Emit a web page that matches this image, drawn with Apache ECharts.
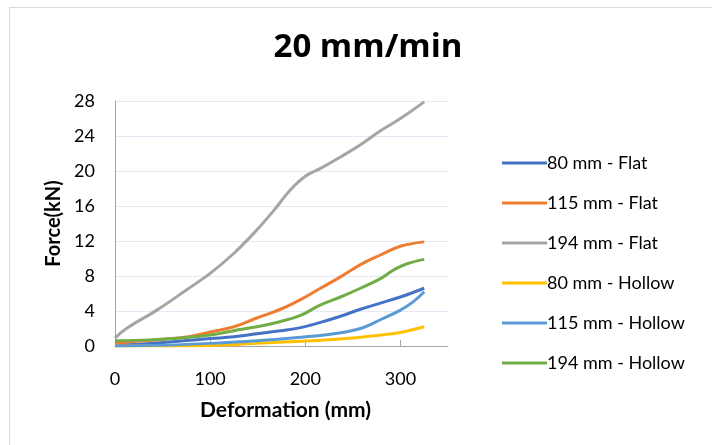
<!DOCTYPE html>
<html>
<head>
<meta charset="utf-8">
<script src="https://cdn.jsdelivr.net/npm/echarts@6/dist/echarts.min.js"></script>
<style>
html,body{margin:0;padding:0;background:#fff;}
#frame{position:absolute;left:9px;top:7px;width:720px;height:450px;border:1px solid #d9d9d9;box-sizing:border-box;}
#chart{position:absolute;left:0;top:0;width:712px;height:445px;}
</style>
</head>
<body>
<div id="frame"></div>
<div id="chart"></div>
<script>
const titleText = '20 mm/min';
const xAxisName = 'Deformation (mm)';
const yAxisName = 'Force(kN)';
const seriesNames = ['80 mm - Flat', '115 mm - Flat', '194 mm - Flat', '80 mm - Hollow', '115 mm - Hollow', '194 mm - Hollow'];
const seriesColors = ['#4472C4', '#ED7D31', '#A5A5A5', '#FFC000', '#5B9BD5', '#70AD47'];

const flat80 = [[0,0.1],[37,0.3],[72,0.6],[100,0.85],[125,1.05],[149,1.4],[174,1.75],[195,2.1],[216,2.7],[237,3.4],[258,4.2],[279,4.9],[300,5.6],[325,6.6]];
const flat115 = [[0,0.3],[19,0.5],[54,0.8],[79,1.1],[100,1.6],[125,2.2],[149,3.2],[174,4.2],[195,5.3],[216,6.6],[237,7.9],[258,9.3],[279,10.4],[300,11.4],[325,11.9]];
const flat194 = [[0,0.9],[12,2.0],[44,4.1],[75,6.4],[100,8.3],[125,10.6],[146,12.9],[167,15.5],[184,17.8],[200,19.4],[216,20.3],[237,21.6],[258,23.0],[279,24.6],[300,26.0],[325,27.9]];
const hollow80 = [[0,0],[50,0],[100,0.05],[149,0.3],[195,0.55],[230,0.75],[258,1.0],[279,1.25],[300,1.55],[325,2.2]];
const hollow115 = [[0,0],[54,0.1],[100,0.3],[149,0.6],[195,1.0],[230,1.4],[258,2.0],[279,3.0],[300,4.1],[314,5.1],[325,6.2]];
const hollow194 = [[0,0.6],[37,0.7],[72,0.95],[100,1.25],[125,1.75],[149,2.2],[174,2.8],[195,3.5],[216,4.7],[237,5.6],[258,6.6],[279,7.7],[293,8.7],[307,9.4],[325,9.9]];
const allData = [flat80, flat115, flat194, hollow80, hollow115, hollow194];

const FONT = 'Lato, "Open Sans", sans-serif';
const chart = echarts.init(document.getElementById('chart'), null, {renderer: 'canvas'});
chart.setOption({
  animation: false,
  backgroundColor: 'transparent',
  title: {
    text: titleText, left: 363, top: 26, textAlign: 'center',
    textStyle: {fontFamily: '"Open Sans", Lato, sans-serif', fontSize: 33, fontWeight: 'bold', color: '#000'}
  },
  grid: {left: 115, top: 101, width: 333, height: 245, containLabel: false},
  legend: {
    orient: 'vertical', left: 497, top: 148,
    icon: 'rect', itemWidth: 45, itemHeight: 3, itemGap: 20,
    textStyle: {fontFamily: FONT, fontSize: 18, color: '#000', lineHeight: 20, padding: [0,0,0,-5]},
    data: seriesNames
  },
  xAxis: {
    type: 'value', min: 0, max: 350, interval: 100,
    name: xAxisName, nameLocation: 'middle', nameGap: 54,
    nameTextStyle: {fontFamily: FONT, fontSize: 21, fontWeight: 'bold', color: '#000', padding: [0,0,0,8]},
    axisLine: {show: true, lineStyle: {color: '#a6a6a6', width: 1}},
    axisTick: {show: true, inside: true, length: 6, lineStyle: {color: '#a6a6a6'}},
    axisLabel: {fontFamily: FONT, fontSize: 18, color: '#000', margin: 24, showMaxLabel: false},
    splitLine: {show: false}
  },
  yAxis: {
    type: 'value', min: 0, max: 28, interval: 4,
    name: yAxisName, nameLocation: 'middle', nameGap: 51, nameRotate: 90,
    nameTextStyle: {fontFamily: FONT, fontSize: 20, fontWeight: 'bold', color: '#000'},
    axisLine: {show: true, lineStyle: {color: '#a6a6a6', width: 1}},
    axisTick: {show: false},
    axisLabel: {fontFamily: FONT, fontSize: 18, color: '#000', margin: 20},
    splitLine: {show: true, lineStyle: {color: '#e4e9f5', width: 1}}
  },
  series: seriesNames.map((n, i) => ({
    name: n, type: 'line', data: allData[i], smooth: 0.4, showSymbol: false,
    lineStyle: {width: 3, color: seriesColors[i]}, itemStyle: {color: seriesColors[i]}
  }))
});
</script>
</body>
</html>
